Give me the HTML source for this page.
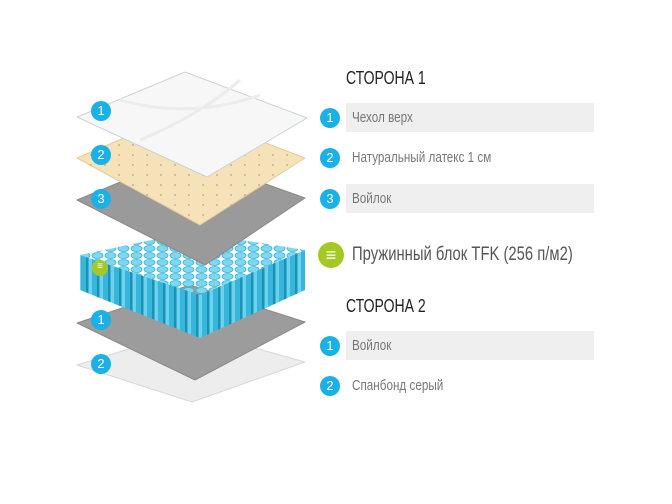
<!DOCTYPE html>
<html><head><meta charset="utf-8"><style>
body{margin:0;background:#fff;width:672px;height:504px;overflow:hidden;position:relative;font-family:"Liberation Sans",sans-serif}
.h{position:absolute;left:346px;font-size:18px;color:#222;transform:scaleX(0.78);transform-origin:0 0;white-space:nowrap}
.bar{position:absolute;left:346px;width:248px;height:29px;background:#efefef}
.t{position:absolute;left:352px;font-size:15px;color:#777;line-height:29px;transform:scaleX(0.78);transform-origin:0 0;white-space:nowrap}
.c{position:absolute;width:20px;height:20px;border-radius:50%;background:#1ab0e8;color:#fff;font-size:13px;text-align:center;line-height:20px}
</style></head><body>
<svg width="672" height="504" style="position:absolute;left:0;top:0">
<defs>
<pattern id="dots" width="14" height="10" patternUnits="userSpaceOnUse"><circle cx="7" cy="5" r="1" fill="#c8b08a"/></pattern>
<pattern id="tops" width="13" height="7" patternUnits="userSpaceOnUse"><ellipse cx="6.5" cy="3.5" rx="5.5" ry="3" fill="#7fd8f0" stroke="#39b5d9" stroke-width="0.8"/></pattern>
<pattern id="cols" width="11" height="20" patternUnits="userSpaceOnUse"><rect width="11" height="20" fill="#36b6db"/><rect x="9" width="2" height="20" fill="#1f8fb3"/><rect x="1" width="3" height="20" fill="#6fd0ec"/></pattern>
</defs>
<polygon points="77,365 190,330 305,362 192,402" fill="#ededed" stroke="#d8d8d8" stroke-linejoin="round"/>
<polygon points="77,323 190,285 305,322 195,380" fill="#9c9c9c" stroke="#8a8a8a" stroke-linejoin="round"/>
<polygon points="80,255 80,290 200,338 200,295" fill="url(#cols)"/>
<polygon points="200,295 200,338 305,290 305,250" fill="url(#cols)"/>
<polygon points="80,255 190,232 305,250 200,295" fill="url(#tops)"/>
<polygon points="77,200 185,155 305,198 205,265" fill="#9a9a9a" stroke="#888" stroke-linejoin="round"/>
<polygon points="77,158 185,112 305,158 200,225" fill="#f6e2b8" stroke="#e6cb98" stroke-linejoin="round"/>
<polygon points="77,158 185,112 305,158 200,225" fill="url(#dots)"/>
<polygon points="77,117 185,72 307,118 207,177" fill="#f7f7f7" stroke="#c9d3da" stroke-linejoin="round"/>
<path d="M120,100 Q190,120 260,95 M140,140 Q200,115 240,80" stroke="#ececec" fill="none" stroke-width="3"/>
</svg>
<div class="c" style="left:91px;top:101px">1</div>
<div class="c" style="left:91px;top:145px">2</div>
<div class="c" style="left:91px;top:189px">3</div>
<div class="c" style="left:92px;top:260px;width:16px;height:16px;background:#a6c825;line-height:14px;font-size:10px">≡</div>
<div class="c" style="left:91px;top:310px">1</div>
<div class="c" style="left:91px;top:354px">2</div>

<div class="h" style="top:68px">СТОРОНА 1</div>
<div class="bar" style="top:103px"></div>
<div class="bar" style="top:184px"></div>
<div class="bar" style="top:331px"></div>
<div class="c" style="left:320px;top:108px">1</div><div class="t" style="top:103px">Чехол верх</div>
<div class="c" style="left:320px;top:148px">2</div><div class="t" style="top:143px">Натуральный латекс 1 см</div>
<div class="c" style="left:320px;top:189px">3</div><div class="t" style="top:184px">Войлок</div>
<div class="c" style="left:318px;top:242px;width:26px;height:26px;background:#a6c825;line-height:26px;font-size:18px">≡</div>
<div class="t" style="top:239px;font-size:19px;color:#555;line-height:32px">Пружинный блок TFK (256 п/м2)</div>
<div class="h" style="top:296px">СТОРОНА 2</div>
<div class="c" style="left:320px;top:336px">1</div><div class="t" style="top:331px">Войлок</div>
<div class="c" style="left:320px;top:376px">2</div><div class="t" style="top:371px">Спанбонд серый</div>
</body></html>
